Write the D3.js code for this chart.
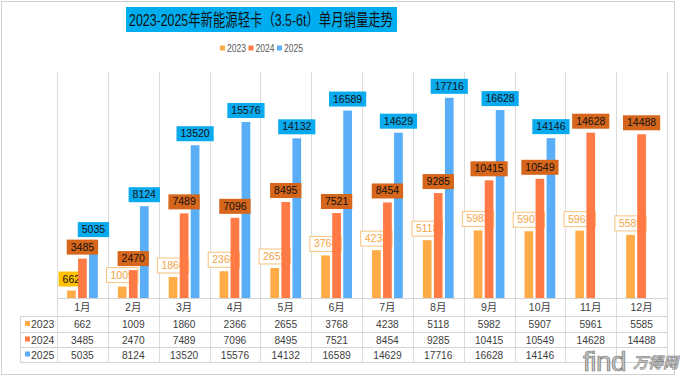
<!DOCTYPE html>
<html>
<head>
<meta charset="utf-8">
<script src="https://cdn.jsdelivr.net/npm/d3@7"></script>
<style>
body { margin: 0; background: #fff; }
text { font-family: "Liberation Sans", "Noto Sans CJK SC", sans-serif; }
</style>
</head>
<body>
<script>
var w = 680;
var h = 377;

var months = ["1月", "2月", "3月", "4月", "5月", "6月", "7月", "8月", "9月", "10月", "11月", "12月"];
var years = ["2023", "2024", "2025"];
var sales2023 = [662, 1009, 1860, 2366, 2655, 3768, 4238, 5118, 5982, 5907, 5961, 5585];
var sales2024 = [3485, 2470, 7489, 7096, 8495, 7521, 8454, 9285, 10415, 10549, 14628, 14488];
var sales2025 = [5035, 8124, 13520, 15576, 14132, 16589, 14629, 17716, 16628, 14146, null, null];

var series = [sales2023, sales2024, sales2025];
var barColor = ["#ffac48", "#ff7a45", "#5aaef7"];

var plotL = 57, plotR = 667, plotT = 72, base = 298;
var rowH = [298, 316, 332, 347, 362];

var svg = d3.select("body")
  .append("svg")
  .attr("width", w)
  .attr("height", h);

// outer frame
svg.append("rect")
  .attr("x", 1.5).attr("y", 1.5)
  .attr("width", 673).attr("height", 373)
  .attr("fill", "none")
  .attr("stroke", "#cfcfcf");

// title
svg.append("rect")
  .attr("x", 126).attr("y", 7)
  .attr("width", 271).attr("height", 25)
  .attr("fill", "#00adef");
svg.append("text")
  .attr("x", 129).attr("y", 25.5)
  .attr("font-size", 16.5)
  .attr("textLength", 264)
  .attr("lengthAdjust", "spacingAndGlyphs")
  .attr("fill", "#111")
  .text("2023-2025年新能源轻卡（3.5-6t）单月销量走势");

// legend
var legend = svg.append("g").attr("transform", "translate(220,48)");
years.forEach(function(y, i) {
  var g = legend.append("g").attr("transform", "translate(" + (i * 28.5) + ",0)");
  g.append("rect").attr("x", 0).attr("y", -2.5).attr("width", 5).attr("height", 5).attr("fill", barColor[i]);
  g.append("text").attr("x", 7).attr("y", 3.8).attr("font-size", 10.5)
    .attr("textLength", 19).attr("lengthAdjust", "spacingAndGlyphs")
    .attr("fill", "#595959").text(y);
});

var xScale = d3.scaleBand()
  .domain(months)
  .range([plotL, plotR]);

var xInner = d3.scaleBand()
  .domain(years)
  .range([0, xScale.bandwidth()])
  .paddingInner(0.21)
  .paddingOuter(0.91);

var yScale = d3.scaleLinear()
  .domain([0, 20000])
  .range([base, plotT]);

// grid lines
var edges = months.map(function(m) { return xScale(m); }).concat([plotR]);
svg.selectAll("line.grid")
  .data(edges)
  .enter()
  .append("line")
  .attr("class", "grid")
  .attr("x1", function(d) { return Math.round(d) + 0.5; })
  .attr("x2", function(d) { return Math.round(d) + 0.5; })
  .attr("y1", plotT)
  .attr("y2", rowH[4])
  .attr("stroke", "#dcdcdc");

// table horizontal lines
svg.append("line").attr("x1", plotL).attr("x2", plotR).attr("y1", base + 0.5).attr("y2", base + 0.5).attr("stroke", "#d4d4d4");
[rowH[1], rowH[2], rowH[3], rowH[4]].forEach(function(y) {
  svg.append("line").attr("x1", 20).attr("x2", plotR).attr("y1", y + 0.5).attr("y2", y + 0.5).attr("stroke", "#d4d4d4");
});
svg.append("line").attr("x1", 20.5).attr("x2", 20.5).attr("y1", rowH[1]).attr("y2", rowH[4]).attr("stroke", "#d4d4d4");

// month labels
svg.selectAll("text.month")
  .data(months)
  .enter()
  .append("text")
  .attr("class", "month")
  .attr("x", function(d) { return xScale(d) + xScale.bandwidth() / 2; })
  .attr("y", (rowH[0] + rowH[1]) / 2 + 4)
  .attr("text-anchor", "middle")
  .attr("font-size", 10.5)
  .attr("fill", "#404040")
  .text(function(d) { return d; });

// table rows
years.forEach(function(y, i) {
  var cy = (rowH[i + 1] + rowH[i + 2]) / 2 + 4;
  svg.append("rect").attr("x", 25).attr("y", cy - 7).attr("width", 5).attr("height", 5).attr("fill", barColor[i]);
  svg.append("text").attr("x", 31).attr("y", cy).attr("font-size", 10.5).attr("fill", "#404040").text(y);
  svg.append("g").selectAll("text")
    .data(series[i])
    .enter()
    .append("text")
    .attr("x", function(d, j) { return xScale(months[j]) + xScale.bandwidth() / 2; })
    .attr("y", cy)
    .attr("text-anchor", "middle")
    .attr("font-size", 10.2)
    .attr("fill", "#404040")
    .text(function(d) { return d == null ? "" : d; });
});

function drawBars(i) {
  svg.append("g").selectAll("rect")
    .data(series[i].map(function(v, j) { return { m: months[j], v: v }; }).filter(function(d) { return d.v != null; }))
    .enter()
    .append("rect")
    .attr("x", function(d) { return xScale(d.m) + xInner(years[i]); })
    .attr("y", function(d) { return yScale(d.v); })
    .attr("width", xInner.bandwidth())
    .attr("height", function(d) { return base - yScale(d.v); })
    .attr("fill", barColor[i]);
}

function drawLabels(i) {
  var data = series[i].map(function(v, j) { return { m: months[j], v: v, j: j }; }).filter(function(d) { return d.v != null; });
  svg.append("g").selectAll("g")
    .data(data)
    .enter()
    .append("g")
    .each(function(d) {
      var cx = xScale(d.m) + xInner(years[i]) + xInner.bandwidth() / 2;
      var by = yScale(d.v) - 4;
      var fill, stroke, color;
      if (i === 0) {
        if (d.j === 0) { fill = "#ffc000"; stroke = "none"; color = "#111"; }
        else { fill = "#fff"; stroke = "#f9c27e"; color = "#f5a448"; }
      } else if (i === 1) { fill = "#d5661b"; stroke = "none"; color = "#111"; }
      else { fill = "#0aaaef"; stroke = "none"; color = "#111"; }
      var el = d3.select(this);
      var r = el.append("rect");
      var t = el.append("text")
        .attr("x", cx)
        .attr("y", by - 4)
        .attr("text-anchor", "middle")
        .attr("font-size", 10.5)
        .attr("fill", color)
        .text(d.v);
      var tw = t.node().getComputedTextLength() + 8;
      r.attr("x", cx - tw / 2).attr("y", by - 15)
        .attr("width", tw).attr("height", 15)
        .attr("fill", fill)
        .attr("stroke", stroke);
    });
}

drawBars(0);
drawLabels(0);
drawBars(1);
drawBars(2);
drawLabels(1);
drawLabels(2);

// watermark
var wm = svg.append("g").attr("transform", "translate(583,371)");
wm.append("text").attr("x", 0).attr("y", 0).attr("font-size", 28).attr("letter-spacing", -0.5)
  .attr("fill", "#c4c4c4").attr("stroke", "#777").attr("stroke-width", 0.7).text("find");
wm.append("text").attr("x", 50).attr("y", -3).attr("font-size", 15).attr("font-weight", "bold")
  .attr("fill", "#c4c4c4").attr("stroke", "#777").attr("stroke-width", 0.5)
  .attr("font-style", "italic").text("万得网");
</script>
</body>
</html>
